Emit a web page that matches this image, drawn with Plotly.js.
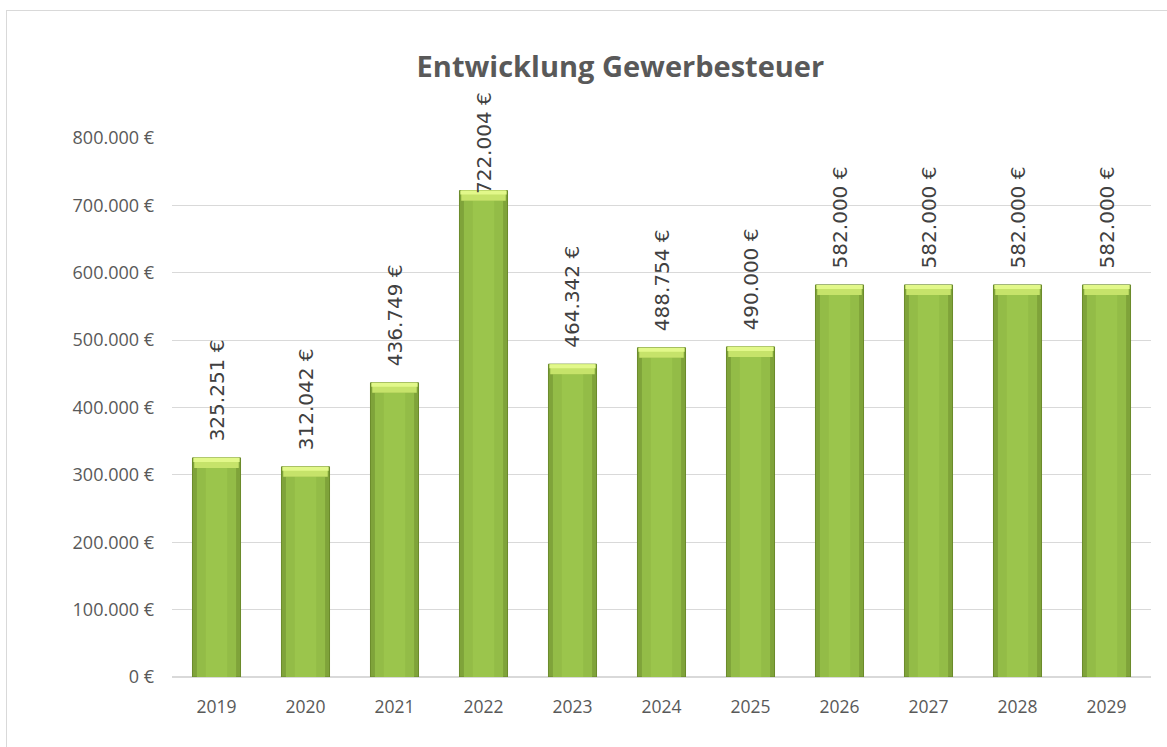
<!DOCTYPE html>
<html>
<head>
<meta charset="utf-8">
<script src="https://cdn.plot.ly/plotly-3.0.1.min.js"></script>
<style>
  html, body { margin: 0; padding: 0; background: #ffffff; overflow: hidden; }
  #frame { position: absolute; left: 6px; top: 10px; width: 1200px; height: 800px; border: 1px solid #D9D9D9; box-sizing: border-box; }
  #chart { position: absolute; left: 0; top: 0; width: 1167px; height: 747px; }
</style>
</head>
<body>
<div id="frame"></div>
<div id="chart"></div>
<script>
const years = ['2019','2020','2021','2022','2023','2024','2025','2026','2027','2028','2029'];
const values = [325251, 312042, 436749, 722004, 464342, 488754, 490000, 582000, 582000, 582000, 582000];
const yTickVals = [0, 100000, 200000, 300000, 400000, 500000, 600000, 700000, 800000];

function fmtEuro(v) {
  return v.toString().replace(/\B(?=(\d{3})+(?!\d))/g, '.') + ' €';
}

const bevel = 15000;

const mainBar = {
  type: 'bar', x: years, y: values,
  width: 0.54,
  marker: { color: '#7FA33A', line: { color: '#6A8A2A', width: 1 } },
  hoverinfo: 'skip', showlegend: false
};
const innerBar = {
  type: 'bar', x: years, y: values.map(v => v - bevel),
  width: 0.44,
  marker: { color: '#93BC47', line: { width: 0 } },
  hoverinfo: 'skip', showlegend: false
};
const centerBar = {
  type: 'bar', x: years, y: values.map(v => v - bevel),
  width: 0.24,
  marker: { color: '#9BC54C', line: { width: 0 } },
  hoverinfo: 'skip', showlegend: false
};
const topBevel = {
  type: 'bar', x: years, y: values.map(() => bevel), base: values.map(v => v - bevel),
  width: 0.5,
  marker: { color: '#C6E36A', line: { width: 0 } },
  hoverinfo: 'skip', showlegend: false
};
const topHighlight = {
  type: 'bar', x: years, y: values.map(() => bevel * 0.4), base: values.map(v => v - bevel * 0.4),
  width: 0.52,
  marker: { color: '#E2F88A', line: { width: 0 } },
  hoverinfo: 'skip', showlegend: false
};

const annotations = years.map((yr, i) => ({
  x: i, y: values[i], xref: 'x', yref: 'y',
  text: fmtEuro(values[i]),
  textangle: -90,
  showarrow: false,
  xanchor: 'center', yanchor: 'bottom',
  yshift: values[i] > 700000 ? -6 : 14,
  font: { family: 'DejaVu Sans', size: 20, color: '#404040' }
}));

const layout = {
  width: 1167, height: 747,
  margin: { l: 172, r: 16, t: 138, b: 70 },
  paper_bgcolor: 'rgba(0,0,0,0)',
  plot_bgcolor: 'rgba(0,0,0,0)',
  barmode: 'overlay',
  title: {
    text: '<b>Entwicklung Gewerbesteuer</b>',
    font: { family: 'Open Sans', size: 29, color: '#595959' },
    x: 0.458, xanchor: 'center', xref: 'paper',
    y: 1 - 67 / 747, yref: 'container', yanchor: 'middle'
  },
  xaxis: {
    type: 'category',
    range: [-0.5, years.length - 0.5],
    autorange: false,
    tickfont: { family: 'Open Sans', size: 17.5, color: '#595959' },
    showgrid: false, zeroline: false, showline: false,
    ticks: '', ticklen: 0, ticklabelstandoff: 17
  },
  yaxis: {
    range: [0, 800000],
    autorange: false,
    tickvals: yTickVals,
    ticktext: yTickVals.map(fmtEuro),
    tickfont: { family: 'Open Sans', size: 18, color: '#595959' },
    showgrid: true, gridcolor: '#D9D9D9', gridwidth: 1,
    zeroline: true, zerolinecolor: '#D9D9D9', zerolinewidth: 1.5,
    showline: false, ticks: '', ticklabelstandoff: 17
  },
  annotations: annotations,
  showlegend: false
};

Plotly.newPlot('chart', [mainBar, innerBar, centerBar, topBevel, topHighlight], layout, { displayModeBar: false, staticPlot: true });
</script>
</body>
</html>
